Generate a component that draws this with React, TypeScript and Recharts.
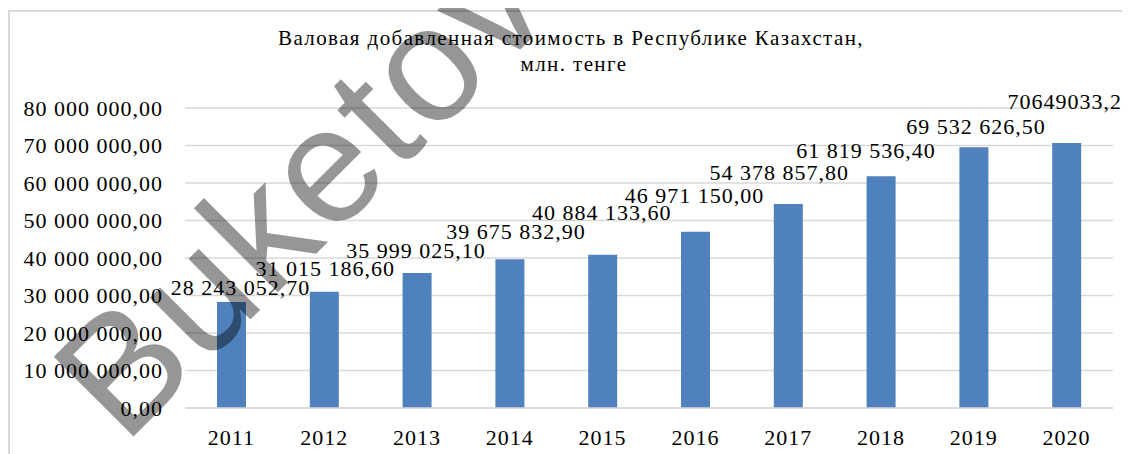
import React from "react";
import { BarChart, Bar, XAxis, YAxis, CartesianGrid, LabelList } from "recharts";

const years = ["2011", "2012", "2013", "2014", "2015", "2016", "2017", "2018", "2019", "2020"];
const values = [
  28243052.7, 31015186.6, 35999025.1, 39675832.9, 40884133.6,
  46971150.0, 54378857.8, 61819536.4, 69532626.5, 70649033.2,
];
const valueLabels = [
  "28 243 052,70", "31 015 186,60", "35 999 025,10", "39 675 832,90", "40 884 133,60",
  "46 971 150,00", "54 378 857,80", "61 819 536,40", "69 532 626,50", "70649033,2",
];
const yTicks = [0, 10000000, 20000000, 30000000, 40000000, 50000000, 60000000, 70000000, 80000000];
const titleLines = ["Валовая добавленная стоимость в Республике Казахстан,", "млн. тенге"];
const watermark = "Buketov";

// label placement tweaks (relative to the bar top), as in the original staggered labels
const labelShiftX = [9, 1, -1, 6, -1, -1, -9, -15, 2, -2];
const labelLift = [14, 23, 22, 27, 42, 36, 31, 25, 20, 41];

const data = years.map((y, i) => ({ year: y, value: values[i], label: valueLabels[i] }));

const W = 1122;
const H = 446;
const FONT = "Liberation Serif";

const fmtTick = (v: number) => {
  const int = Math.round(v).toString().replace(/\B(?=(\d{3})+(?!\d))/g, " ");
  return int + ",00";
};

const renderLabel = (props: any) => {
  const { x, y, width, index } = props;
  return (
    <text
      x={x + width / 2 + labelShiftX[index]}
      y={y - labelLift[index] + 7}
      textAnchor="middle"
      style={{ fontFamily: FONT }}
      fontSize={22}
      letterSpacing={1}
      fill="#000"
    >
      {valueLabels[index]}
    </text>
  );
};

export default function App() {
  return (
    <div style={{ position: "relative", width: W, height: H, fontFamily: FONT }}>
      <div
        style={{
          position: "absolute",
          left: 0,
          top: 2,
          width: W,
          height: H - 2,
          borderTop: "2px solid #d9d9d9",
          borderLeft: "2px solid #d9d9d9",
          boxSizing: "border-box",
        }}
      />
      <BarChart
        width={W}
        height={H}
        data={data}
        margin={{ top: 100, right: 17, bottom: 16, left: 0 }}
        barCategoryGap={0}
        style={{ position: "absolute", left: 0, top: 0 }}
      >
        <CartesianGrid vertical={false} stroke="#d9d9d9" strokeWidth={1.5} />
        <XAxis
          dataKey="year"
          height={30}
          axisLine={{ stroke: "#d9d9d9", strokeWidth: 1.5 }}
          tickLine={false}
          tickSize={0}
          tickMargin={21}
          interval={0}
          tick={{ fontFamily: FONT, fontSize: 22, fill: "#000", letterSpacing: 1 }}
        />
        <YAxis
          domain={[0, 80000000]}
          ticks={yTicks}
          width={177}
          axisLine={false}
          tickLine={false}
          tickSize={0}
          tickMargin={22}
          tickFormatter={fmtTick}
          tick={{ fontFamily: FONT, fontSize: 22, fill: "#000", letterSpacing: 1 }}
        />
        <Bar dataKey="value" fill="#4f81bd" barSize={29} isAnimationActive={false}>
          <LabelList dataKey="label" content={renderLabel} />
        </Bar>
        <text
          x={563}
          y={37}
          textAnchor="middle"
          style={{ fontFamily: FONT }}
          fontSize={21}
          letterSpacing={1.4}
          fill="#000"
        >
          {titleLines[0]}
        </text>
        <text
          x={566}
          y={63}
          textAnchor="middle"
          style={{ fontFamily: FONT }}
          fontSize={21}
          letterSpacing={1.4}
          fill="#000"
        >
          {titleLines[1]}
        </text>
      </BarChart>
      <svg
        width={W}
        height={H}
        style={{ position: "absolute", left: 0, top: 0, pointerEvents: "none" }}
      >
        <text
          x={116}
          y={438}
          transform="rotate(-45 116 438)"
          style={{ fontFamily: "Liberation Sans" }}
          fontSize={164}
          letterSpacing={3}
          fill="#000"
          fillOpacity={0.41}
        >
          {watermark}
        </text>
      </svg>
    </div>
  );
}
